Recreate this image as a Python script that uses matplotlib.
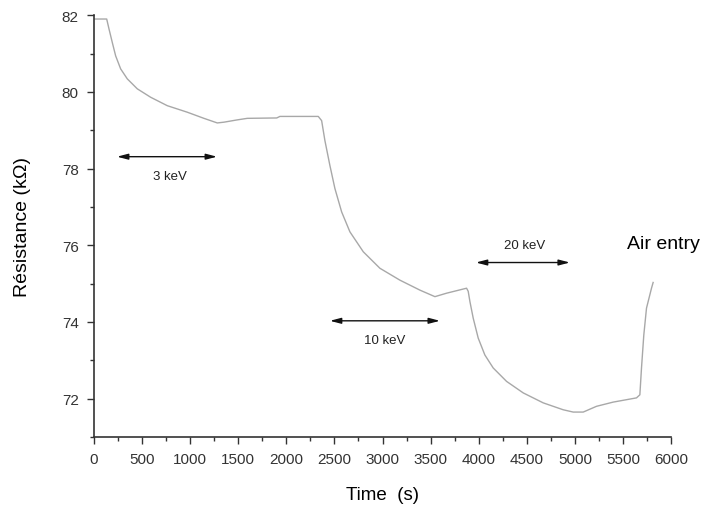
import matplotlib as mpl
mpl.use('Agg')
import matplotlib.pyplot as plt
from matplotlib.ticker import MultipleLocator

plt.rcParams['font.family'] = ['Liberation Sans', 'DejaVu Sans']

# resistance trace during successive irradiations
time_s = [0, 132, 156, 190, 225, 277, 346, 450, 589, 762, 970, 1143, 1282,
          1351, 1490, 1594, 1900, 1933, 2332, 2367, 2401, 2453, 2505, 2575,
          2661, 2800, 2973, 3181, 3389, 3545, 3666, 3874, 3891, 3909, 3943,
          3995, 4064, 4151, 4290, 4463, 4671, 4879, 4983, 5087, 5225, 5399,
          5641, 5676, 5693, 5717, 5745, 5797, 5814]
resist_kohm = [81.9, 81.9, 81.64, 81.29, 80.94, 80.6, 80.34, 80.08, 79.86,
               79.64, 79.47, 79.31, 79.19, 79.21, 79.27, 79.31, 79.32, 79.36,
               79.36, 79.25, 78.73, 78.08, 77.48, 76.87, 76.35, 75.83, 75.4,
               75.09, 74.83, 74.66, 74.75, 74.88, 74.8, 74.53, 74.1, 73.58,
               73.14, 72.8, 72.45, 72.15, 71.89, 71.71, 71.65, 71.65, 71.8,
               71.91, 72.02, 72.1, 72.8, 73.66, 74.36, 74.88, 75.03]

# beam energy windows: (start, end, arrow level, label x, label y, label)
windows = [
    (239, 1279, 78.31, 790, 77.8, '3 keV'),
    (2453, 3597, 74.03, 3025, 73.53, '10 keV'),
    (3971, 4948, 75.55, 4480, 76.0, '20 keV'),
]

fig = plt.figure(figsize=(7.1, 5.06), dpi=100)
ax = fig.add_axes([0.1324, 0.1344, 0.8127, 0.8336])

ax.plot(time_s, resist_kohm, color='#a8a8a8', lw=1.0)

for t0, t1, y, tx, ty, lab in windows:
    ax.annotate('', xy=(t0, y), xytext=(t1, y),
                arrowprops=dict(arrowstyle='<|-|>,head_length=0.65,head_width=0.17',
                                color='#111111', lw=1.0,
                                mutation_scale=10, shrinkA=0, shrinkB=0))
    ax.text(tx, ty, lab, ha='center', va='center', fontsize=9.5, color='#222222')

ax.text(5540, 76.05, 'Air entry', ha='left', va='center', fontsize=14, color='black')

ax.set_xlim(0, 6000)
ax.set_ylim(71, 82)
ax.xaxis.set_major_locator(MultipleLocator(500))
ax.xaxis.set_minor_locator(MultipleLocator(250))
ax.yaxis.set_major_locator(MultipleLocator(2))
ax.yaxis.set_minor_locator(MultipleLocator(1))

for side in ['top', 'right']:
    ax.spines[side].set_visible(False)
for side in ['left', 'bottom']:
    ax.spines[side].set_color('#333333')
    ax.spines[side].set_linewidth(1.2)

ax.tick_params(which='major', length=5, width=1, color='#333333', pad=6,
               labelsize=11, labelcolor='#333333')
ax.tick_params(which='minor', length=3, width=1, color='#333333')

ax.set_xlabel('Time  (s)', fontsize=13.5, labelpad=14)
ax.set_ylabel('Résistance (kΩ)', fontsize=14, labelpad=22)

plt.savefig('out.png')
